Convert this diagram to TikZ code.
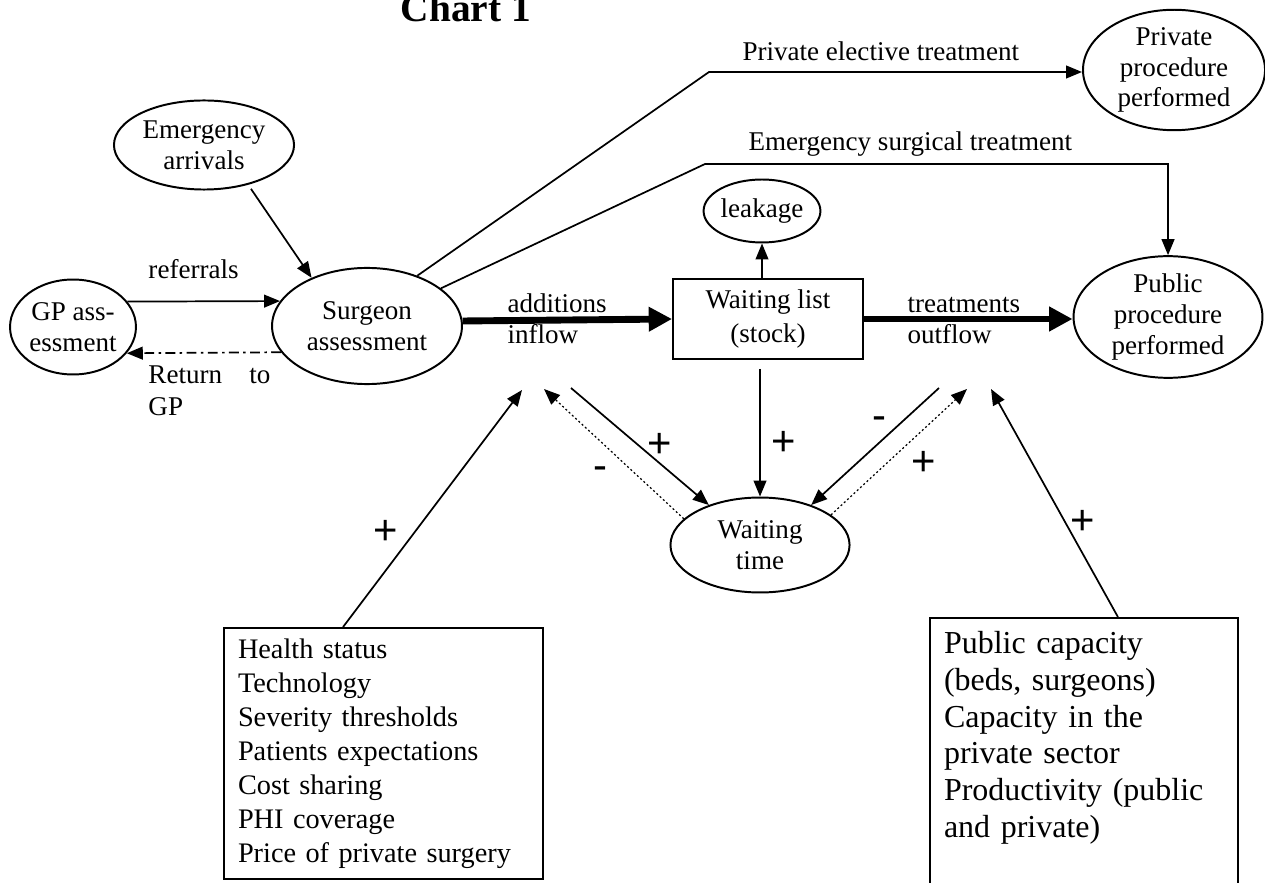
\documentclass[tikz,border=0pt]{standalone}
\usepackage{fontspec}
\setmainfont{Liberation Serif}
\newfontfamily\signfont{Liberation Sans}
\usetikzlibrary{arrows.meta,shapes.geometric}
\begin{document}
\begin{tikzpicture}[x=0.4065pt,y=-0.4065pt,
  oval/.style={draw,ellipse,line width=0.8pt,inner sep=0pt,align=center,font=\fontsize{11}{12.5}\selectfont},
  box/.style={draw,rectangle,line width=0.8pt},
  arr/.style={line width=0.7pt,-{Triangle[length=6.5pt,width=5.2pt]}},
  flow/.style={line width=2.8pt,-{Triangle[length=9.5pt,width=9.5pt]}},
  dots/.style={line width=0.5pt,dash pattern=on 0.8pt off 1pt,-{Triangle[length=6.5pt,width=5.2pt]}},
  dashdot/.style={dash pattern=on 4pt off 1.8pt on 1pt off 1.8pt},
  sign/.style={font=\signfont\fontsize{17}{17}\selectfont,inner sep=0pt},
  txt/.style={font=\fontsize{11}{12.8}\selectfont,inner sep=0pt,anchor=base west,align=left}]
\useasboundingbox (0,0) rectangle (1265,883);

\node[font=\bfseries\fontsize{16}{16}\selectfont,anchor=base] (title) at (466,22) {Chart 1};

\node[oval,minimum width=73.2pt,minimum height=36.2pt] (emerg) at (204,145) {Emergency\\arrivals};
\node[oval,minimum width=51.2pt,minimum height=38.6pt] (gp) at (73,327) {GP ass-\\essment};
\node[oval,minimum width=77.2pt,minimum height=47.2pt] (surg) at (367,326) {Surgeon\\assessment};
\node[box,minimum width=77.2pt,minimum height=32.5pt,align=center,font=\fontsize{11}{13.5}\selectfont] (wl) at (768,319) {Waiting list\\(stock)};
\node[oval,minimum width=43.1pt,minimum height=25.6pt] (leak) at (762,211) {leakage};
\node[oval,minimum width=74pt,minimum height=48pt] (priv) at (1174,70) {Private\\procedure\\performed};
\node[oval,minimum width=76.8pt,minimum height=46.7pt] (pub) at (1168,317) {Public\\procedure\\performed};
\node[oval,minimum width=72.8pt,minimum height=38.6pt] (wtime) at (760,545) {Waiting\\time};

\node[box,anchor=north west,align=left,text width=118.3pt,inner xsep=5.7pt,inner ysep=4.4pt,font=\fontsize{11.5}{13.8}\selectfont] (lbox) at (223,627) {Health status\\Technology\\Severity thresholds\\Patients expectations\\Cost sharing\\PHI coverage\\Price of private surgery};
\node[box,anchor=north west,align=left,text width=113.8pt,inner xsep=5.7pt,inner ysep=5.3pt,text depth=120pt,font=\fontsize{13}{15}\selectfont] (rbox) at (929,617) {Public capacity\\(beds, surgeons)\\Capacity in the\\private sector\\Productivity (public\\and private)};

\node[txt] (lref) at (148,279) {referrals};
\node[txt] (ladd) at (507,344) {additions\\inflow};
\node[txt] (ltreat) at (907,344) {treatments\\outflow};
\node[txt] (lret) at (148,415) {\hbox to 49.6pt{Return\hfill to}\\GP};
\node[txt] (lpriv) at (742,61) {Private elective treatment};
\node[txt] (lemer) at (748,151) {Emergency surgical treatment};

\coordinate (pk) at (709,72);
\coordinate (ek) at (705,164);
\coordinate (aL) at (522,390);
\coordinate (dL) at (544,389);
\coordinate (sL) at (571,388);
\coordinate (sR) at (939,388);
\coordinate (dR) at (967,389);
\coordinate (bR) at (991,389);

\path[draw,arr,shorten <=2pt] (emerg.318.7) -- (surg.139.5);
\path[draw,arr] (gp.25) -- (surg.164);
\path[draw,arr,dashdot] (surg.197) -- (gp.334);
\path[draw,flow] (surg.3) -- (wl.west);
\path[draw,flow] (wl.east) -- (wl.east -| pub.west);
\path[draw,arr] (wl.north -| leak) -- (leak);
\path[draw,arr] (surg.45) -- (pk) -- (pk -| priv.west);
\path[draw,arr] (surg.27) -- (ek) -| (pub.north);
\path[draw,arr,shorten <=3.6pt] (wl.south -| wtime) -- (wtime);
\path[draw,arr] (sL) -- (wtime.142);
\path[draw,dots] (wtime.161) -- (dL);
\path[draw,arr] (sR) -- (wtime.38);
\path[draw,dots] (wtime.23) -- (dR);
\path[draw,arr] ([xshift=48.8pt]lbox.north west) -- (aL);
\path[draw,arr] ([xshift=76.8pt]rbox.north west) -- (bR);

\node[sign] (p1) at (660,445) {+};
\node[sign] (m1) at (600,473) {-};
\node[sign] (p2) at (784,443) {+};
\node[sign] (m2) at (879,423) {-};
\node[sign] (p3) at (924,463) {+};
\node[sign] (p4) at (386,532) {+};
\node[sign] (p5) at (1083,522) {+};
\end{tikzpicture}
\end{document}
